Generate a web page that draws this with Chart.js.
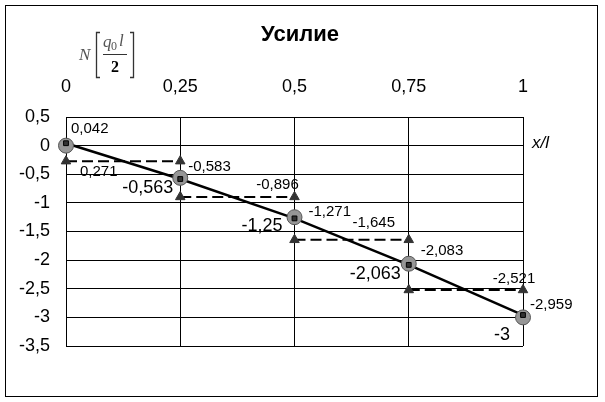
<!DOCTYPE html>
<html>
<head>
<meta charset="utf-8">
<script src="https://cdn.jsdelivr.net/npm/chart.js@4/dist/chart.umd.min.js"></script>
<style>
  html, body { margin: 0; padding: 0; background: #fff; }
  #wrap { position: relative; width: 605px; height: 402px; }
</style>
</head>
<body>
<div id="wrap"><canvas id="c" width="605" height="402"></canvas></div>
<script>
// ---- data ----
const xValues = [0, 0.25, 0.5, 0.75, 1];
const xTickLabels = ['0', '0,25', '0,5', '0,75', '1'];
const yTickValues = [0.5, 0, -0.5, -1, -1.5, -2, -2.5, -3, -3.5];
const yTickLabels = ['0,5', '0', '-0,5', '-1', '-1,5', '-2', '-2,5', '-3', '-3,5'];
const exactValues = [0, -0.563, -1.25, -2.063, -3];
const approxValues = [0.042, -0.583, -1.271, -2.083, -2.959];
const stepValues = [-0.271, -0.896, -1.645, -2.521];
const exactLabels = ['', '-0,563', '-1,25', '-2,063', '-3'];
const approxLabels = ['0,042', '-0,583', '-1,271', '-2,083', '-2,959'];
const stepLabels = ['0,271', '-0,896', '-1,645', '-2,521'];
const titleText = 'Усилие';
const xAxisTitle = 'x/l';

// ---- label placement (offsets from the point, in px) ----
const approxOffsets = [[5, -14], [8, -12], [14, -7], [12, -14], [7, -10]];
const exactOffsets = [[0, 0], [-7, 10], [-12, 9], [-8, 10], [-13, 18]];
const stepAnchors = [0, 1, 1, 1]; // 0 = left end, 1 = right end
const stepOffsets = [[14, 11], [-17, -12], [-35, -17], [-9, -11]];

const FONT = "'Liberation Sans', Arial, sans-serif";
const SERIF = "'Liberation Serif', 'Times New Roman', serif";

const exactPts = xValues.map((x, i) => ({ x, y: exactValues[i] }));
const approxPts = xValues.map((x, i) => ({ x, y: approxValues[i] }));
const stepPts = [];
stepValues.forEach((v, i) => {
  stepPts.push({ x: xValues[i], y: v });
  stepPts.push({ x: xValues[i + 1], y: v });
  stepPts.push({ x: xValues[i + 1], y: null });
});

const decor = {
  id: 'decor',
  afterDatasetsDraw(chart) {
    const { ctx, scales: { x, y } } = chart;
    ctx.save();
    ctx.fillStyle = '#000';
    ctx.textBaseline = 'middle';
    // approx labels
    ctx.font = '15px ' + FONT;
    ctx.textAlign = 'left';
    approxLabels.forEach((t, i) => {
      const px = x.getPixelForValue(xValues[i]), py = y.getPixelForValue(approxValues[i]);
      ctx.fillText(t, px + approxOffsets[i][0], py + approxOffsets[i][1]);
    });
    // step labels
    stepLabels.forEach((t, i) => {
      const xi = xValues[i + stepAnchors[i]];
      const px = x.getPixelForValue(xi), py = y.getPixelForValue(stepValues[i]);
      ctx.textAlign = stepAnchors[i] === 0 ? 'left' : 'center';
      ctx.fillText(t, px + stepOffsets[i][0], py + stepOffsets[i][1]);
    });
    // exact labels
    ctx.font = '18px ' + FONT;
    ctx.textAlign = 'right';
    exactLabels.forEach((t, i) => {
      if (!t) return;
      const px = x.getPixelForValue(xValues[i]), py = y.getPixelForValue(exactValues[i]);
      ctx.fillText(t, px + exactOffsets[i][0], py + exactOffsets[i][1]);
    });
    ctx.restore();
  },
  afterDraw(chart) {
    const { ctx, chartArea } = chart;
    ctx.save();
    // outer border
    ctx.strokeStyle = '#000';
    ctx.lineWidth = 1;
    ctx.strokeRect(5.5, 5.5, 592, 391);
    // title
    ctx.fillStyle = '#000';
    ctx.textAlign = 'center';
    ctx.textBaseline = 'middle';
    ctx.font = 'bold 22px ' + FONT;
    ctx.fillText(titleText, 300, 35);
    // x axis title
    ctx.font = 'italic 17px ' + FONT;
    ctx.textAlign = 'left';
    ctx.fillText(xAxisTitle, chartArea.right + 9, y0(chart) - 2);
    // y axis title: N [ q0 l / 2 ]
    ctx.textAlign = 'left';
    ctx.textBaseline = 'alphabetic';
    ctx.font = 'italic 17px ' + SERIF;
    ctx.fillStyle = '#555';
    ctx.fillText('N', 79, 60);
    ctx.fillStyle = '#000';
    ctx.strokeStyle = '#333';
    ctx.lineWidth = 1.3;
    ctx.beginPath();
    ctx.moveTo(100, 32.5); ctx.lineTo(96.5, 32.5); ctx.lineTo(96.5, 77.5); ctx.lineTo(100, 77.5);
    ctx.moveTo(130, 32.5); ctx.lineTo(133.5, 32.5); ctx.lineTo(133.5, 77.5); ctx.lineTo(130, 77.5);
    ctx.stroke();
    ctx.font = 'italic 17px ' + SERIF;
    ctx.fillStyle = '#555';
    ctx.fillText('q', 103, 47);
    ctx.font = '12px ' + SERIF;
    ctx.fillText('0', 111, 50);
    ctx.font = 'italic 17px ' + SERIF;
    ctx.fillText('l', 119, 46);
    ctx.beginPath();
    ctx.moveTo(103, 54.5); ctx.lineTo(127, 54.5);
    ctx.lineWidth = 1;
    ctx.stroke();
    ctx.fillStyle = '#000';
    ctx.font = 'bold 16px ' + SERIF;
    ctx.fillText('2', 111, 72);
    ctx.restore();
  }
};
function y0(chart) { return chart.scales.y.getPixelForValue(0); }

new Chart(document.getElementById('c'), {
  type: 'scatter',
  data: {
    datasets: [
      { // approx squares (top)
        data: approxPts, showLine: false, order: 0, clip: false,
        pointStyle: 'rect', pointRadius: 3.4, pointHoverRadius: 3.4,
        backgroundColor: '#333', borderColor: '#000', borderWidth: 1
      },
      { // exact circles
        data: exactPts, showLine: false, order: 1, clip: false,
        pointStyle: 'circle', pointRadius: 7.5, pointHoverRadius: 7.5,
        backgroundColor: '#969696', borderColor: '#555', borderWidth: 1
      },
      { // approx line
        data: approxPts, showLine: true, order: 2, clip: false,
        pointRadius: 0, borderColor: '#000', borderWidth: 2.5, tension: 0
      },
      { // step dashed
        data: stepPts, showLine: true, spanGaps: false, order: 3, clip: false,
        borderColor: '#000', borderWidth: 2, borderDash: [11, 5],
        pointStyle: 'triangle', pointRadius: 5.5, pointHoverRadius: 5.5,
        backgroundColor: '#333', pointBorderColor: '#333', pointBorderWidth: 1
      }
    ]
  },
  options: {
    responsive: false,
    animation: false,
    events: [],
    layout: { padding: { left: 0, top: 0, right: 605 - 523, bottom: 402 - 346 } },
    plugins: { legend: { display: false }, tooltip: { enabled: false }, title: { display: false } },
    scales: {
      x: {
        type: 'linear', position: 'top', min: 0, max: 1,
        afterBuildTicks(s) { s.ticks = xValues.map(v => ({ value: v })); },
        afterFit(s) { s.height = 117; },
        ticks: {
          color: '#000', padding: 19, maxRotation: 0, autoSkip: false,
          font: { family: FONT, size: 18 },
          callback(v) { const i = xValues.indexOf(v); return i >= 0 ? xTickLabels[i] : ''; }
        },
        grid: { color: '#000', lineWidth: 1, drawTicks: false },
        border: { color: '#000', width: 1 }
      },
      y: {
        type: 'linear', min: -3.5, max: 0.5,
        afterBuildTicks(s) { s.ticks = yTickValues.map(v => ({ value: v })); },
        afterFit(s) { s.width = 66; },
        ticks: {
          color: '#000', padding: 16, autoSkip: false,
          font: { family: FONT, size: 18 },
          callback(v) { const i = yTickValues.indexOf(v); return i >= 0 ? yTickLabels[i] : ''; }
        },
        grid: { color: '#000', lineWidth: 1, drawTicks: false },
        border: { color: '#000', width: 1 }
      }
    }
  },
  plugins: [decor]
});
</script>
</body>
</html>
